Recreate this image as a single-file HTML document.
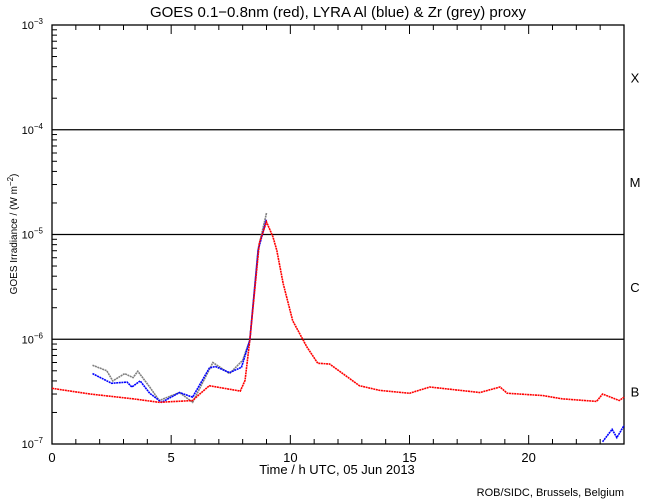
<!DOCTYPE html>
<html><head><meta charset="utf-8"><style>
body{margin:0;background:#fff;}
svg{display:block;font-family:"Liberation Sans",sans-serif;}
</style></head><body>
<svg id="c" width="650" height="500">
<text x="338" y="17" font-size="15" text-anchor="middle">GOES 0.1−0.8nm (red), LYRA Al (blue) &amp; Zr (grey) proxy</text>
<text x="337" y="474" font-size="13" text-anchor="middle">Time / h UTC, 05 Jun 2013</text>
<text x="624" y="496" font-size="11" text-anchor="end">ROB/SIDC, Brussels, Belgium</text>
<text transform="translate(17,234) rotate(-90)" font-size="10" text-anchor="middle">GOES Irradiance / (W m<tspan dy="-4" font-size="8">−2</tspan><tspan dy="4">)</tspan></text>
<g id="axes"></g>
<g id="series"></g>
</svg>
<script>
const redHours=[0,1.6,3.4,4.5,5.9,6.2,6.6,7.9,8.1,8.3,8.7,9.0,9.27,9.43,9.7,10.1,10.7,11.15,11.65,12.9,13.75,15.0,15.85,17.95,18.8,19.1,20.6,21.4,22.85,23.1,23.8,24];
const redValues=[3.4e-7,3.0e-7,2.7e-7,2.5e-7,2.6e-7,3.0e-7,3.6e-7,3.2e-7,4.05e-7,9.8e-7,8.3e-6,1.32e-5,9.5e-6,7.1e-6,3.4e-6,1.5e-6,8.4e-7,5.9e-7,5.8e-7,3.6e-7,3.25e-7,3.05e-7,3.5e-7,3.1e-7,3.5e-7,3.05e-7,2.9e-7,2.7e-7,2.55e-7,3.0e-7,2.6e-7,2.8e-7];
const blueHours=[1.7,2.5,3.15,3.35,3.7,4.1,4.6,5.35,5.9,6.6,6.85,7.45,7.95,8.3,8.65,9.0];
const blueValues=[4.7e-7,3.8e-7,3.9e-7,3.5e-7,4.0e-7,3.05e-7,2.5e-7,3.1e-7,2.8e-7,5.3e-7,5.5e-7,4.8e-7,5.4e-7,9.8e-7,7.1e-6,1.4e-5];
const blueLateHours=[23.1,23.5,23.7,24];
const blueLateValues=[1.05e-7,1.38e-7,1.15e-7,1.5e-7];
const greyHours=[1.7,2.3,2.55,3.05,3.4,3.6,4.1,4.5,5.35,5.9,6.75,7.45,8.0,8.3,8.65,9.0];
const greyValues=[5.65e-7,5.0e-7,4.0e-7,4.7e-7,4.3e-7,4.95e-7,3.5e-7,2.6e-7,3.1e-7,2.5e-7,6.0e-7,4.7e-7,6.3e-7,9.8e-7,7.3e-6,1.6e-5];
const yExponents=[-3,-4,-5,-6,-7];
const xTickLabels=[0,5,10,15,20];
const classLabels=["X","M","C","B"];
const classExp=[-3.5,-4.5,-5.5,-6.5];

const L=52,R=624,T=25,B=444;
const NS="http://www.w3.org/2000/svg";
const xs=h=>L+(R-L)*h/24;
const ys=v=>T+(B-T)*(-3-Math.log10(v))/4;
function mk(tag,attrs,parent){const e=document.createElementNS(NS,tag);for(const k in attrs)e.setAttribute(k,attrs[k]);parent.appendChild(e);return e;}
const ax=document.getElementById('axes'),se=document.getElementById('series');
let f=mk('rect',{x:L,y:T,width:R-L,height:B-T,fill:'none',stroke:'#000','stroke-width':1.3},ax);


for(const e of yExponents){
  const y=ys(Math.pow(10,e));
  if(e>-7&&e<-3){const g=mk('line',{x1:L,x2:R,y1:y,y2:y,stroke:'#000','stroke-width':1.3},ax);
    
    }
  const t=mk('text',{x:L-9,y:y+4,'font-size':11,'text-anchor':'end'},ax);
  
  
  t.innerHTML='10<tspan dy="-5" font-size="8">'+String(e).replace('-','−')+'</tspan>';
  if(e>-7){for(let m=2;m<=9;m++){const yy=ys(m*Math.pow(10,e-1));mk('line',{x1:L,x2:L+5,y1:yy,y2:yy,stroke:'#000'},ax);}}
}
for(let h=0;h<=24;h++){
  const x=xs(h),len=h%5===0?9:5;
  mk('line',{x1:x,x2:x,y1:B,y2:B-len,stroke:'#000'},ax);
  mk('line',{x1:x,x2:x,y1:T,y2:T+len,stroke:'#000'},ax);
}
for(const v of xTickLabels){const t=mk('text',{x:xs(v),y:B+18,'font-size':13,'text-anchor':'middle'},ax);
  
  
  t.textContent=v;}
classLabels.forEach((c,i)=>{const t=mk('text',{x:635,y:ys(Math.pow(10,classExp[i]))+5,'font-size':13,'text-anchor':'middle'},ax);
  
  
  t.textContent=c;});
function line(hs,vs,color,name){
  const p=mk('polyline',{points:hs.map((h,i)=>xs(h)+','+ys(vs[i])).join(' '),fill:'none',stroke:color,'stroke-width':1.6,'stroke-dasharray':'2 0.6'},se);
  
  
}
line(greyHours,greyValues,'#808080','zr-proxy-series');
line(blueHours,blueValues,'#0000ff','al-proxy-series');
line(blueLateHours,blueLateValues,'#0000ff','al-proxy-late-series');
line(redHours,redValues,'#ff0000','goes-series');
</script>
</body></html>
